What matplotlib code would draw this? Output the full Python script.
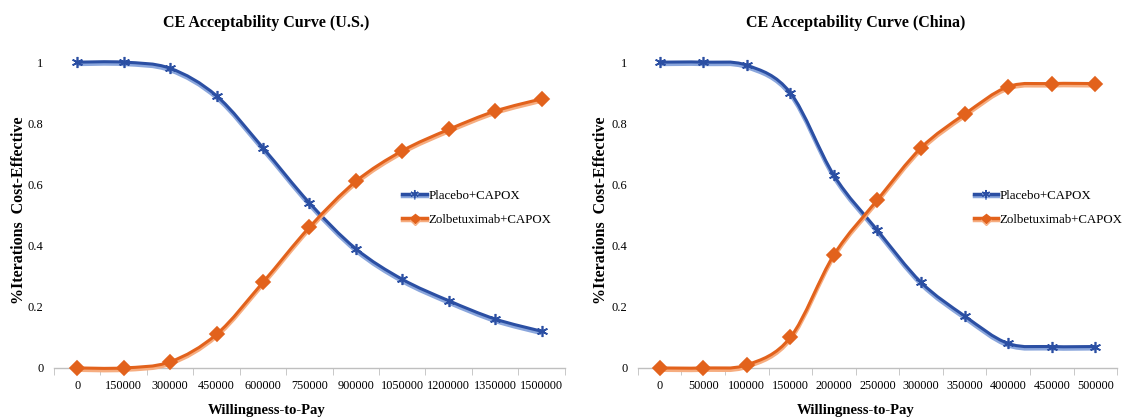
import matplotlib
matplotlib.use('Agg')
import matplotlib.pyplot as plt
import matplotlib.patheffects as pe
from matplotlib.path import Path
from matplotlib.patches import PathPatch
from matplotlib.lines import Line2D

plt.rcParams['font.family'] = ['Liberation Serif', 'DejaVu Serif']

# Data
us_wtp = ['0', '150000', '300000', '450000', '600000', '750000', '900000',
          '1050000', '1200000', '1350000', '1500000']
us_placebo = [1.0, 1.0, 0.98, 0.89, 0.72, 0.54, 0.39, 0.29, 0.22, 0.16, 0.12]
us_zolbe = [0.0, 0.0, 0.02, 0.11, 0.28, 0.46, 0.61, 0.71, 0.78, 0.84, 0.88]

cn_wtp = ['0', '50000', '100000', '150000', '200000', '250000', '300000',
          '350000', '400000', '450000', '500000']
cn_placebo = [1.0, 1.0, 0.99, 0.90, 0.63, 0.45, 0.28, 0.17, 0.08, 0.07, 0.07]
cn_zolbe = [0.0, 0.0, 0.01, 0.10, 0.37, 0.55, 0.72, 0.83, 0.92, 0.93, 0.93]

BLUE = '#2b4fa3'
BLUE_LIGHT = '#8aa6dc'
ORANGE = '#e2621c'
ORANGE_LIGHT = '#f6ad80'


def smooth_path(xs, ys):
    # Excel-style smoothed line as cubic bezier segments through the points
    pts = list(zip(xs, ys))
    verts = [pts[0]]
    codes = [Path.MOVETO]
    n = len(pts)
    for i in range(n - 1):
        p0 = pts[max(i - 1, 0)]
        p1 = pts[i]
        p2 = pts[i + 1]
        p3 = pts[min(i + 2, n - 1)]
        c1 = (p1[0] + (p2[0] - p0[0]) / 6, p1[1] + (p2[1] - p0[1]) / 6)
        c2 = (p2[0] - (p3[0] - p1[0]) / 6, p2[1] - (p3[1] - p1[1]) / 6)
        verts += [c1, c2, p2]
        codes += [Path.CURVE4] * 3
    return Path(verts, codes)


def draw_series(ax, ys, color, light, marker, msize, label):
    xs = list(range(len(ys)))
    patch = PathPatch(smooth_path(xs, ys), facecolor='none', edgecolor=color,
                      lw=2.2, clip_on=False, zorder=3,
                      path_effects=[pe.SimpleLineShadow(offset=(0, -1.5), shadow_color=light, alpha=1.0, linewidth=2.8),
                                    pe.Normal()])
    ax.add_patch(patch)
    ax.plot(xs, ys, ls='none', marker=marker, ms=msize, color=color, mec=color,
            mew=1.2, clip_on=False, zorder=4)
    return Line2D([], [], color=color, lw=2.5, marker=marker, ms=msize - 2, mew=1.0, label=label,
                  path_effects=[pe.SimpleLineShadow(offset=(0, -1), shadow_color=light, alpha=1.0), pe.Normal()])


fig = plt.figure(figsize=(11.25, 4.2), dpi=100)

panels = [
    ([0.048, 0.124, 0.454, 0.728], us_wtp, us_placebo, us_zolbe,
     'CE Acceptability Curve (U.S.)', 0.237, 0.017, (0.672, 0.60)),
    ([0.567, 0.124, 0.426, 0.728], cn_wtp, cn_placebo, cn_zolbe,
     'CE Acceptability Curve (China)', 0.761, 0.534, (0.69, 0.60)),
]

for rect, labels, placebo, zolbe, title, cx, ylx, leg_pos in panels:
    ax = fig.add_axes(rect)
    h1 = draw_series(ax, placebo, BLUE, BLUE_LIGHT, (6, 2, 0), 8, 'Placebo+CAPOX')
    h2 = draw_series(ax, zolbe, ORANGE, ORANGE_LIGHT, 'D', 7, 'Zolbetuximab+CAPOX')

    ax.set_xlim(-0.5, len(labels) - 0.5)
    ax.set_ylim(0, 1)
    ax.set_xticks(range(len(labels)))
    ax.set_xticklabels(labels, fontsize=8.8)
    ax.set_xticks([i - 0.5 for i in range(len(labels) + 1)], minor=True)
    ax.tick_params(axis='x', which='major', length=0, pad=9)
    ax.tick_params(axis='x', which='minor', length=5, color='#bfbfbf', direction='out')
    ax.set_yticks([0, 0.2, 0.4, 0.6, 0.8, 1.0])
    ax.set_yticklabels(['0', '0.2', '0.4', '0.6', '0.8', '1'], fontsize=9)
    ax.tick_params(axis='y', length=0, pad=7.5)
    for s in ['top', 'right', 'left']:
        ax.spines[s].set_visible(False)
    ax.spines['bottom'].set_color('#bfbfbf')
    ax.spines['bottom'].set_linewidth(1.0)

    fig.text(ylx, 0.5, '%Iterations  Cost-Effective', rotation=90, ha='center', va='center',
             fontsize=11.5, fontweight='bold')
    fig.text(cx, 0.945, title, ha='center', va='center', fontsize=11.5, fontweight='bold')
    fig.text(cx, 0.022, 'Willingness-to-Pay', ha='center', va='center', fontsize=10.5, fontweight='bold')

    ax.legend(handles=[h1, h2], loc='upper left', bbox_to_anchor=leg_pos, frameon=False,
              fontsize=9.3, handlelength=1.9, handletextpad=0.1, labelspacing=0.95,
              borderaxespad=0)

fig.savefig('out.png', dpi=100)
